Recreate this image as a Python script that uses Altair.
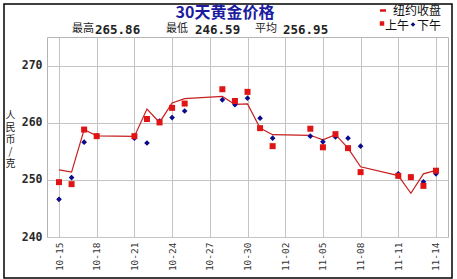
import altair as alt
import pandas as pd

# ---- data ----
trade_dates = ["2013-10-15", "2013-10-16", "2013-10-17", "2013-10-18",
               "2013-10-21", "2013-10-22", "2013-10-23", "2013-10-24", "2013-10-25",
               "2013-10-28", "2013-10-29", "2013-10-30", "2013-10-31", "2013-11-01",
               "2013-11-04", "2013-11-05", "2013-11-06", "2013-11-07", "2013-11-08",
               "2013-11-11", "2013-11-12", "2013-11-13", "2013-11-14"]
ny_close = [251.75, 251.35, 258.80, 257.70, 257.60, 262.40, 260.05, 263.45, 264.20,
            264.60, 263.20, 263.30, 259.07, 257.90, 257.80, 257.00, 257.90, 255.55,
            252.30, 250.75, 247.65, 251.05, 251.65]
am_price = [249.60, 249.25, 258.80, 257.65, 257.65, 260.65, 260.05, 262.60, 263.35,
            265.86, 263.80, 265.40, 259.05, 255.90, 258.95, 255.70, 258.00, 255.55,
            251.35, 250.70, 250.47, 248.95, 251.60]
pm_price = [246.59, 250.40, 256.60, 257.70, 257.30, 256.45, 260.30, 260.90, 262.05,
            264.00, 263.15, 264.30, 260.80, 257.30, 257.65, 256.65, 257.50, 257.30,
            255.90, 251.05, 250.50, 249.65, 251.05]
tick_labels = ["10-15", "10-18", "10-21", "10-24", "10-27", "10-30",
               "11-02", "11-05", "11-08", "11-11", "11-14"]
y_ticks = [240, 245, 250, 255, 260, 265, 270, 275]
title_text = "30天黄金价格"
stats_names = ["最高", "最低", "平均"]
stats_values = ["265.86", "246.59", "256.95"]
legend_line_label = "纽约收盘"
legend_am_label = "上午"
legend_pm_label = "下午"
y_title = ["人", "民", "币", "/", "克"]

start = pd.Timestamp(trade_dates[0])
days = [(pd.Timestamp(d) - start).days for d in trade_dates]
df = pd.DataFrame({"day": days, "ny": ny_close, "am": am_price, "pm": pm_price})
tick_days = [i * 3 for i in range(len(tick_labels))]

W, H = 401, 200
CJK = "Noto Sans CJK SC"
MONO = "DejaVu Sans Mono"

label_expr = "[" + ",".join("'%s'" % t for t in tick_labels) + "][round(datum.value / 3)]"

x_enc = alt.X("day:Q",
              scale=alt.Scale(domain=[-0.955, 30.955], nice=False, zero=False),
              axis=alt.Axis(values=tick_days, labelExpr=label_expr, labelAngle=-90,
                            labelFont=MONO, labelFontSize=9.5, labelColor="#333333",
                            labelPadding=5, ticks=False, domain=False, title=None,
                            grid=True, gridColor="#c4c4c4", labelFlush=False,
                            labelOverlap=False))
y_axis = alt.Axis(values=y_ticks, labelExpr="datum.value % 10 == 0 ? datum.label : ''",
                  labelFont=MONO, labelFontSize=11.5, labelFontWeight="bold",
                  labelColor="#2a2a2a", labelPadding=5, ticks=False, domain=False,
                  grid=True, gridColor="#c4c4c4",
                  title=y_title, titleAngle=0, titleX=-37, titleY=73,
                  titleBaseline="top", titleAlign="center", titleFont=CJK,
                  titleFontSize=10, titleFontWeight="normal", titleLineHeight=12,
                  titleColor="#222222")
y_scale = alt.Scale(domain=[240, 275], nice=False, zero=False)

base = alt.Chart(df)
line = base.mark_line(color="#c81e1e", strokeWidth=1.2).encode(
    x=x_enc, y=alt.Y("ny:Q", scale=y_scale, axis=y_axis))
pm_pts = base.mark_point(shape="diamond", filled=True, size=32, color="#0a0a8c",
                         opacity=1).encode(x="day:Q", y="pm:Q")
am_pts = base.mark_square(size=36, color="#e01414", opacity=1).encode(
    x="day:Q", y="am:Q")

# ---- decorations (frame, titles, legend) ----
frame = alt.Chart(pd.DataFrame({"k": [0]})).mark_rect(
    fill=None, stroke="#000000", strokeWidth=1.5).encode(
    x=alt.value(-43), x2=alt.value(405), y=alt.value(-33), y2=alt.value(241))

title = alt.Chart(pd.DataFrame({"t": [title_text]})).mark_text(
    font=CJK, fontSize=16, fontWeight="bold", color="#1c1ca0",
    align="center", baseline="middle").encode(
    text="t:N", x=alt.value(225 - 47), y=alt.value(13 - 37))

names_df = pd.DataFrame({"t": stats_names, "px": [72 - 47, 166 - 47, 255 - 47]})
names = alt.Chart(names_df).mark_text(
    font=CJK, fontSize=11, color="#222222", align="left", baseline="middle").encode(
    text="t:N", x=alt.X("px:Q", scale=None), y=alt.value(29 - 37))
vals_df = pd.DataFrame({"t": stats_values, "px": [95 - 47, 195 - 47, 283 - 47]})
vals = alt.Chart(vals_df).mark_text(
    font=MONO, fontSize=12.5, fontWeight="bold", color="#222222",
    align="left", baseline="middle").encode(
    text="t:N", x=alt.X("px:Q", scale=None), y=alt.value(29.5 - 37))

leg_line = alt.Chart(pd.DataFrame({"k": [0]})).mark_rule(
    color="#e01414", strokeWidth=2.5).encode(
    x=alt.value(380 - 47), x2=alt.value(386 - 47), y=alt.value(10.5 - 37))
leg_text_df = pd.DataFrame({"t": [legend_line_label, legend_am_label, legend_pm_label],
                            "px": [393 - 47, 385 - 47, 417 - 47],
                            "py": [11 - 37, 25.5 - 37, 25.5 - 37]})
leg_text = alt.Chart(leg_text_df).mark_text(
    font=CJK, fontSize=12, color="#111111", align="left", baseline="middle").encode(
    text="t:N", x=alt.X("px:Q", scale=None), y=alt.Y("py:Q", scale=None))
leg_sq = alt.Chart(pd.DataFrame({"k": [0]})).mark_square(
    size=20, color="#e01414", opacity=1).encode(
    x=alt.value(382 - 47), y=alt.value(23.5 - 37))
leg_dm = alt.Chart(pd.DataFrame({"k": [0]})).mark_point(
    shape="diamond", filled=True, size=22, color="#0a0a8c", opacity=1).encode(
    x=alt.value(413 - 47), y=alt.value(24.5 - 37))

chart = alt.layer(line, pm_pts, am_pts, frame, title, names, vals, leg_line, leg_text,
                  leg_sq, leg_dm).properties(
    width=W, height=H, autosize=alt.AutoSizeParams(type="none"),
    padding={"left": 47, "top": 37, "right": 9, "bottom": 42},
    background="white",
).configure_view(stroke="#b4b4b4", strokeWidth=1)

chart.save("out.html", embed_options={"renderer": "svg", "actions": False})
